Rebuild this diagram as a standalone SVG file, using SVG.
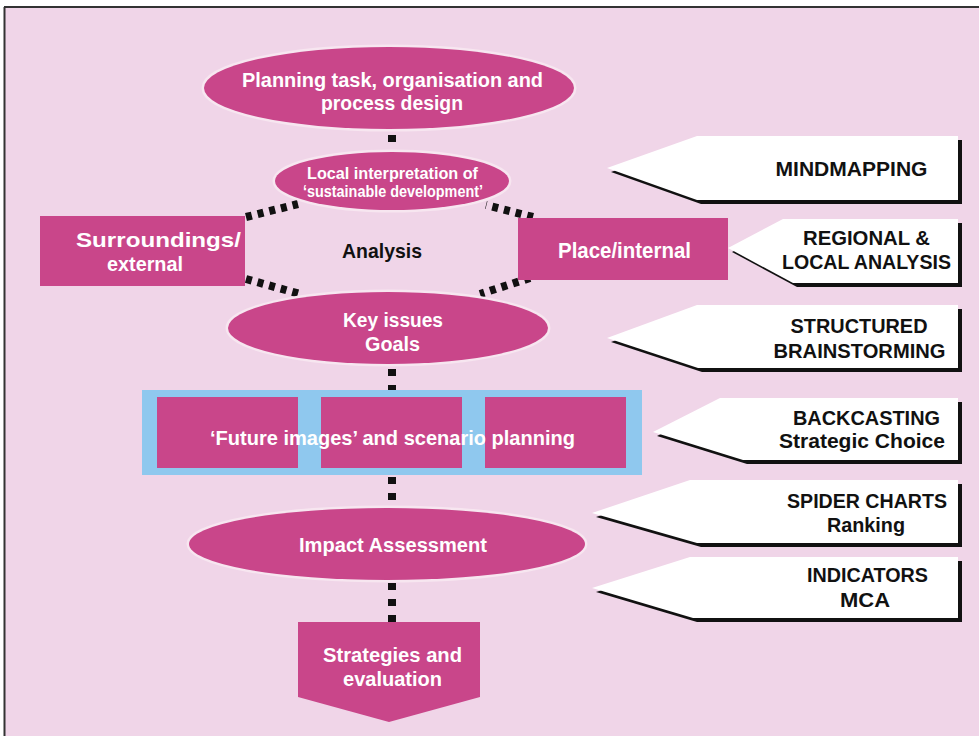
<svg xmlns="http://www.w3.org/2000/svg" width="979" height="736" viewBox="0 0 979 736">
<style>
.bg{fill:#F0D5E8}
.node{fill:#C9468A}
.wt{font-family:"Liberation Sans",Arial,sans-serif;font-weight:bold;fill:#FFFFFF;text-anchor:middle}
.bt{font-family:"Liberation Sans",Arial,sans-serif;font-weight:bold;fill:#111111;text-anchor:middle}
.dot{stroke:#111111;stroke-width:8;fill:none;stroke-dasharray:7 9}
.ddot{stroke:#111111;stroke-width:8;fill:none;stroke-dasharray:6 6}
.tag{fill:#FFFFFF}
.shadow{fill:#111111}
.halo{fill:none;stroke:#F7E6F0;stroke-width:3}
</style>
<rect x="0" y="0" width="979" height="736" fill="#FFFFFF"/>
<rect class="bg" x="5" y="8" width="974" height="728"/>
<line x1="4" y1="7" x2="979" y2="7" stroke="#333333" stroke-width="2"/>
<line x1="4.5" y1="7" x2="4.5" y2="736" stroke="#333333" stroke-width="2"/>

<g id="connectors">
<line class="dot" x1="392" y1="135" x2="392" y2="152"/>
<line class="ddot" x1="246" y1="217" x2="298" y2="204"/>
<line class="ddot" x1="246" y1="279" x2="300" y2="294"/>
<line class="ddot" x1="533" y1="217" x2="486" y2="205"/>
<line class="ddot" x1="530" y1="278" x2="480" y2="294"/>
<line class="dot" x1="392" y1="369" x2="392" y2="392"/>
<line class="dot" x1="392" y1="477" x2="392" y2="510"/>
<line class="dot" x1="392" y1="583" x2="392" y2="624"/>
</g>

<g id="n-planning">
<ellipse class="halo" cx="389" cy="88" rx="186" ry="42"/>
<ellipse class="node" cx="389" cy="88" rx="185" ry="41"/>
<text class="wt" x="392.5" y="87" font-size="20" textLength="301" lengthAdjust="spacingAndGlyphs">Planning task, organisation and</text>
<text class="wt" x="392" y="110" font-size="20" textLength="142" lengthAdjust="spacingAndGlyphs">process design</text>
</g>

<g id="n-local">
<ellipse class="halo" cx="392" cy="181" rx="118" ry="30"/>
<ellipse class="node" cx="392" cy="181" rx="117" ry="29"/>
<text class="wt" x="392.5" y="179" font-size="16" textLength="171" lengthAdjust="spacingAndGlyphs">Local interpretation of</text>
<text class="wt" x="393" y="197" font-size="16" textLength="180" lengthAdjust="spacingAndGlyphs">‘sustainable development’</text>
</g>

<g id="n-surroundings">
<rect class="node" x="40" y="216" width="205" height="70"/>
<text class="wt" x="158.5" y="247" font-size="21" textLength="165" lengthAdjust="spacingAndGlyphs">Surroundings/</text>
<text class="wt" x="145" y="271" font-size="21" textLength="76" lengthAdjust="spacingAndGlyphs">external</text>
</g>

<g id="n-analysis">
<text class="bt" x="382" y="258" font-size="21" textLength="80" lengthAdjust="spacingAndGlyphs">Analysis</text>
</g>

<g id="n-place">
<rect class="node" x="518" y="218" width="210" height="62"/>
<text class="wt" x="624.5" y="258" font-size="22" textLength="133" lengthAdjust="spacingAndGlyphs">Place/internal</text>
</g>

<g id="n-keyissues">
<ellipse class="halo" cx="388" cy="328" rx="161" ry="37"/>
<ellipse class="node" cx="388" cy="328" rx="160" ry="36"/>
<text class="wt" x="393" y="327" font-size="20" textLength="100" lengthAdjust="spacingAndGlyphs">Key issues</text>
<text class="wt" x="392.5" y="351" font-size="20" textLength="55" lengthAdjust="spacingAndGlyphs">Goals</text>
</g>

<g id="n-future">
<rect x="142" y="390" width="500" height="85" fill="#8FC8EE"/>
<rect class="node" x="157" y="397" width="141" height="71"/>
<rect class="node" x="321" y="397" width="141" height="71"/>
<rect class="node" x="485" y="397" width="141" height="71"/>
<text class="wt" x="392.5" y="445" font-size="21" textLength="365" lengthAdjust="spacingAndGlyphs">‘Future images’ and scenario planning</text>
</g>

<g id="n-impact">
<ellipse class="halo" cx="387" cy="544" rx="199" ry="37"/>
<ellipse class="node" cx="387" cy="544" rx="198" ry="36"/>
<text class="wt" x="393" y="552" font-size="20" textLength="188" lengthAdjust="spacingAndGlyphs">Impact Assessment</text>
</g>

<g id="n-strategies">
<polygon class="node" points="298,622 480,622 480,697 389,722 298,697"/>
<text class="wt" x="392.5" y="662" font-size="20" textLength="139" lengthAdjust="spacingAndGlyphs">Strategies and</text>
<text class="wt" x="392.5" y="686" font-size="20" textLength="99" lengthAdjust="spacingAndGlyphs">evaluation</text>
</g>

<g id="t-mindmapping">
<polygon class="shadow" points="611,172 701,140 962,140 962,204 701,204"/>
<polygon class="tag" points="607,168 697,136 958,136 958,200 697,200"/>
<text class="bt" x="851.5" y="176" font-size="20" textLength="152" lengthAdjust="spacingAndGlyphs">MINDMAPPING</text>
</g>

<g id="t-regional">
<polygon class="shadow" points="732,252 787,223 962,223 962,287 797,287"/>
<polygon class="tag" points="728,248 783,219 958,219 958,283 793,283"/>
<text class="bt" x="866.5" y="245" font-size="20" textLength="127" lengthAdjust="spacingAndGlyphs">REGIONAL &amp;</text>
<text class="bt" x="866.5" y="269" font-size="20" textLength="169" lengthAdjust="spacingAndGlyphs">LOCAL ANALYSIS</text>
</g>

<g id="t-structured">
<polygon class="shadow" points="611,342 701,309 962,309 962,372 702,372"/>
<polygon class="tag" points="607,338 697,305 958,305 958,368 698,368"/>
<text class="bt" x="859" y="333" font-size="20" textLength="137" lengthAdjust="spacingAndGlyphs">STRUCTURED</text>
<text class="bt" x="859.5" y="358" font-size="20" textLength="172" lengthAdjust="spacingAndGlyphs">BRAINSTORMING</text>
</g>

<g id="t-backcasting">
<polygon class="shadow" points="657,436 724,402 962,402 962,464 747,464"/>
<polygon class="tag" points="653,432 720,398 958,398 958,460 743,460"/>
<text class="bt" x="866.5" y="425" font-size="20" textLength="147" lengthAdjust="spacingAndGlyphs">BACKCASTING</text>
<text class="bt" x="862" y="448" font-size="20" textLength="166" lengthAdjust="spacingAndGlyphs">Strategic Choice</text>
</g>

<g id="t-spider">
<polygon class="shadow" points="596,517 694,484 962,484 962,547 701,547"/>
<polygon class="tag" points="592,513 690,480 958,480 958,543 697,543"/>
<text class="bt" x="867" y="508" font-size="20" textLength="160" lengthAdjust="spacingAndGlyphs">SPIDER CHARTS</text>
<text class="bt" x="866" y="532" font-size="20" textLength="78" lengthAdjust="spacingAndGlyphs">Ranking</text>
</g>

<g id="t-indicators">
<polygon class="shadow" points="596,592 694,561 962,561 962,622 697,622"/>
<polygon class="tag" points="592,588 690,557 958,557 958,618 693,618"/>
<text class="bt" x="867.5" y="582" font-size="20" textLength="121" lengthAdjust="spacingAndGlyphs">INDICATORS</text>
<text class="bt" x="865" y="607" font-size="20" textLength="50" lengthAdjust="spacingAndGlyphs">MCA</text>
</g>
</svg>
